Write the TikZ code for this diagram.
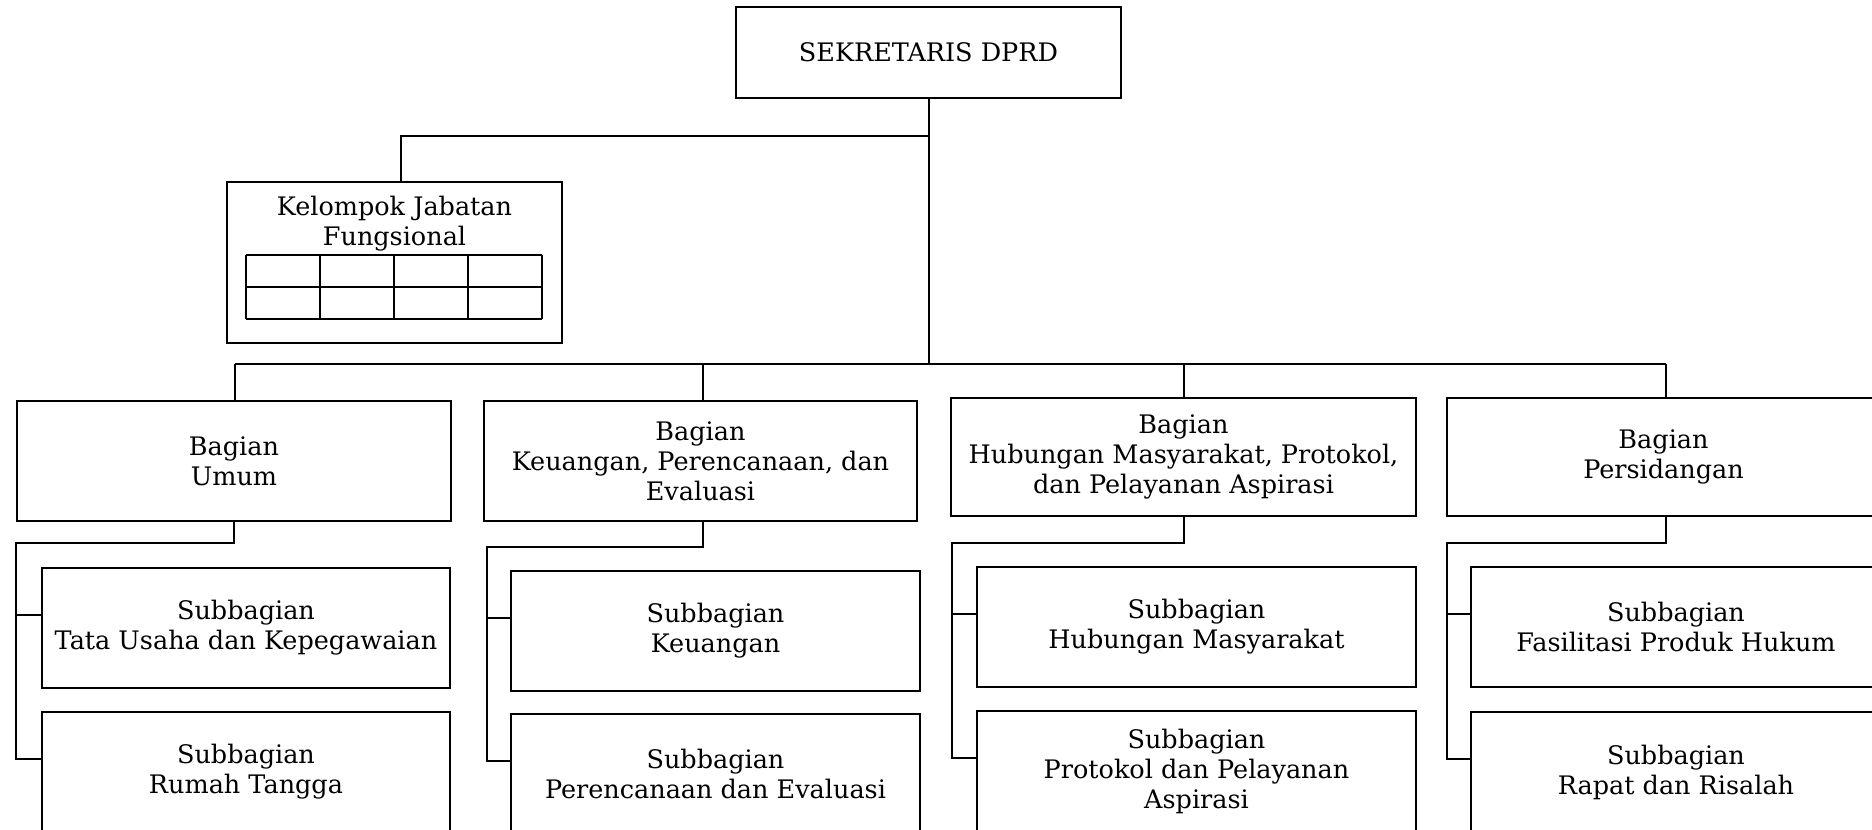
\documentclass[tikz,border=0pt]{standalone}
\usepackage{fontspec}
\setmainfont{DejaVu Serif}
\usetikzlibrary{calc}
\tikzset{
  x=1pt, y=-1pt,
  conn/.style={draw=black, line width=2pt},
  orgbox/.style={draw=black, line width=2pt, rectangle, inner sep=0pt, align=center,
    font=\fontsize{25.5}{30}\selectfont, text=black},
  plaintext/.style={inner sep=0pt, font=\fontsize{25.5}{30}\selectfont, text=black},
}
\begin{document}
\begin{tikzpicture}
\useasboundingbox (0,0) rectangle (1872,830);
\clip (0,0) rectangle (1872,830);

% top
\node[orgbox, minimum width=385pt, minimum height=91pt] (top) at (928.5,52.5) {SEKRETARIS DPRD};

% kelompok jabatan fungsional
\node[orgbox, minimum width=335pt, minimum height=161pt] (kj) at (394.5,262.5) {};
\node[plaintext, anchor=base] (kjl1) at (394.5,215) {Kelompok Jabatan};
\node[plaintext, anchor=base] (kjl2) at (394.5,245) {Fungsional};
\foreach \xx in {246,320,394,468,542} \draw[conn] (\xx,255) -- (\xx,319);
\foreach \yy in {255,287,319} \draw[conn] (246,\yy) -- (542,\yy);

% bagian
\node[orgbox, minimum width=434pt, minimum height=120pt] (bu) at (234,461) {Bagian\\Umum};
\node[orgbox, minimum width=433pt, minimum height=120pt] (bk) at (700.5,461) {Bagian\\Keuangan, Perencanaan, dan\\Evaluasi};
\node[orgbox, minimum width=465pt, minimum height=118pt] (bh) at (1183.5,457) {Bagian\\Hubungan Masyarakat, Protokol,\\dan Pelayanan Aspirasi};
\node[orgbox, minimum width=433pt, minimum height=118pt] (bp) at (1663.5,457) {Bagian\\Persidangan};

% subbagian
\node[orgbox, minimum width=408pt, minimum height=120pt] (s11) at (246,628) {Subbagian\\Tata Usaha dan Kepegawaian};
\node[orgbox, minimum width=408pt, minimum height=120pt] (s12) at (246,772) {Subbagian\\Rumah Tangga};
\node[orgbox, minimum width=409pt, minimum height=120pt] (s21) at (715.5,631) {Subbagian\\Keuangan};
\node[orgbox, minimum width=409pt, minimum height=120pt] (s22) at (715.5,774) {Subbagian\\Perencanaan dan Evaluasi};
\node[orgbox, minimum width=439pt, minimum height=120pt] (s31) at (1196.5,627) {Subbagian\\Hubungan Masyarakat};
\node[orgbox, minimum width=439pt, minimum height=120pt] (s32) at (1196.5,771) {Subbagian\\Protokol dan Pelayanan\\Aspirasi};
\node[orgbox, minimum width=410pt, minimum height=120pt] (s41) at (1676,627) {Subbagian\\Fasilitasi Produk Hukum};
\node[orgbox, minimum width=410pt, minimum height=120pt] (s42) at (1676,772) {Subbagian\\Rapat dan Risalah};

% top-level connectors
\coordinate (busL) at (235,364);
\coordinate (busR) at (1666,364);
\coordinate (kjt) at (930,136);
\draw[conn] (top.south) -- (top.south |- busL);
\draw[conn] (busL) -- (busR);
\draw[conn] (kjt) -| ([xshift=6.5pt]kj.north);
\draw[conn] (busL) -- (busL |- bu.north);
\draw[conn] ([xshift=2.5pt]bk.north |- busL) -- ([xshift=2.5pt]bk.north);
\draw[conn] (bh.north |- busL) -- (bh.north);
\draw[conn] (busR) -- (busR |- bp.north);

% column connectors
\coordinate (j1) at (16,543);
\coordinate (j2) at (487,547);
\coordinate (j3) at (952,543);
\coordinate (j4) at (1447,543);
\coordinate (t11) at ($(s11.north west)+(0,48)$);
\coordinate (t12) at ($(s12.north west)+(0,48)$);
\coordinate (t21) at ($(s21.north west)+(0,48)$);
\coordinate (t22) at ($(s22.north west)+(0,48)$);
\coordinate (t31) at ($(s31.north west)+(0,48)$);
\coordinate (t32) at ($(s32.north west)+(0,48)$);
\coordinate (t41) at ($(s41.north west)+(0,48)$);
\coordinate (t42) at ($(s42.north west)+(0,48)$);

\draw[conn] (bu.south) |- (j1) |- (t12);
\draw[conn] (j1 |- t11) -- (t11);
\draw[conn] ([xshift=2.5pt]bk.south) |- (j2) |- (t22);
\draw[conn] (j2 |- t21) -- (t21);
\draw[conn] (bh.south) |- (j3) |- (t32);
\draw[conn] (j3 |- t31) -- (t31);
\draw[conn] (busR |- bp.south) |- (j4) |- (t42);
\draw[conn] (j4 |- t41) -- (t41);
\end{tikzpicture}
\end{document}
